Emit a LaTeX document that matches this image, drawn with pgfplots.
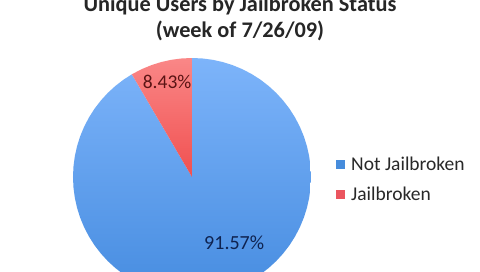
\documentclass[border=0pt]{standalone}
\usepackage{fontspec}
\setmainfont{Carlito}
\usepackage{pgfplots}
\pgfplotsset{compat=1.18}
\usepgfplotslibrary{polar}
\definecolor{blueTop}{RGB}{125,180,250}
\definecolor{blueBot}{RGB}{70,140,224}
\definecolor{redTop}{RGB}{250,135,135}
\definecolor{redBot}{RGB}{240,80,80}
\definecolor{redLab}{RGB}{90,20,20}
\definecolor{blueLab}{RGB}{15,35,80}
\definecolor{legText}{RGB}{40,40,40}
\definecolor{legBlue}{RGB}{70,140,220}
\definecolor{legRed}{RGB}{235,85,95}
\begin{document}
\begin{tikzpicture}
\useasboundingbox (0,0) rectangle (480pt,271pt);
\fill[white] (0,0) rectangle (480pt,271pt);
\node[anchor=base, font=\bfseries\fontsize{22.3}{26}\selectfont, text=black!85, inner sep=0pt] at (240pt,259pt) {Unique Users by Jailbroken Status};
\node[anchor=base, font=\bfseries\fontsize{22.3}{26}\selectfont, text=black!85, inner sep=0pt] at (240pt,233pt) {(week of 7/26/09)};
\begin{polaraxis}[
  hide axis, scale only axis, width=238pt, height=238pt,
  ymin=0, ymax=1,
  at={(192pt,94pt)}, anchor=center,
  legend style={at={(axis description cs:1.105,0.49)}, anchor=west, draw=none, fill=none,
    font=\fontsize{19.5}{23}\selectfont, text=legText, row sep=11pt, inner sep=0pt,
    /tikz/every odd column/.style={column sep=4pt}},
  legend cell align=left,
  legend image code/.code={\fill[#1, draw=none] (0pt,-4.5pt) rectangle (9pt,4.5pt);},
]
\addplot[draw=none, top color=blueTop, bottom color=blueBot, forget plot] coordinates {
(0,0) (120.35,1) (125,1) (130,1) (135,1) (140,1) (145,1) (150,1) (155,1) (160,1) (165,1) (170,1) (175,1) (180,1) (185,1) (190,1) (195,1) (200,1) (205,1) (210,1) (215,1) (220,1) (225,1) (230,1) (235,1) (240,1) (245,1) (250,1) (255,1) (260,1) (265,1) (270,1) (275,1) (280,1) (285,1) (290,1) (295,1) (300,1) (305,1) (310,1) (315,1) (320,1) (325,1) (330,1) (335,1) (340,1) (345,1) (350,1) (355,1) (360,1) (365,1) (370,1) (375,1) (380,1) (385,1) (390,1) (395,1) (400,1) (405,1) (410,1) (415,1) (420,1) (425,1) (430,1) (435,1) (440,1) (445,1) (450,1) (0,0)} \closedcycle;
\addplot[draw=none, top color=redTop, bottom color=redBot, forget plot] coordinates {
(0,0) (90,1) (95,1) (100,1) (105,1) (110,1) (115,1) (120,1) (120.35,1) (0,0)} \closedcycle;
\addlegendimage{fill=legBlue}
\addlegendentry{Not Jailbroken}
\addlegendimage{fill=legRed}
\addlegendentry{Jailbroken}
\node[font=\fontsize{19.5}{23}\selectfont, text=redLab] at (axis cs:104.6,0.83) {8.43\%};
\node[font=\fontsize{20}{24}\selectfont, text=blueLab] at (axis cs:302.5,0.66) {91.57\%};
\end{polaraxis}
\end{tikzpicture}
\end{document}
